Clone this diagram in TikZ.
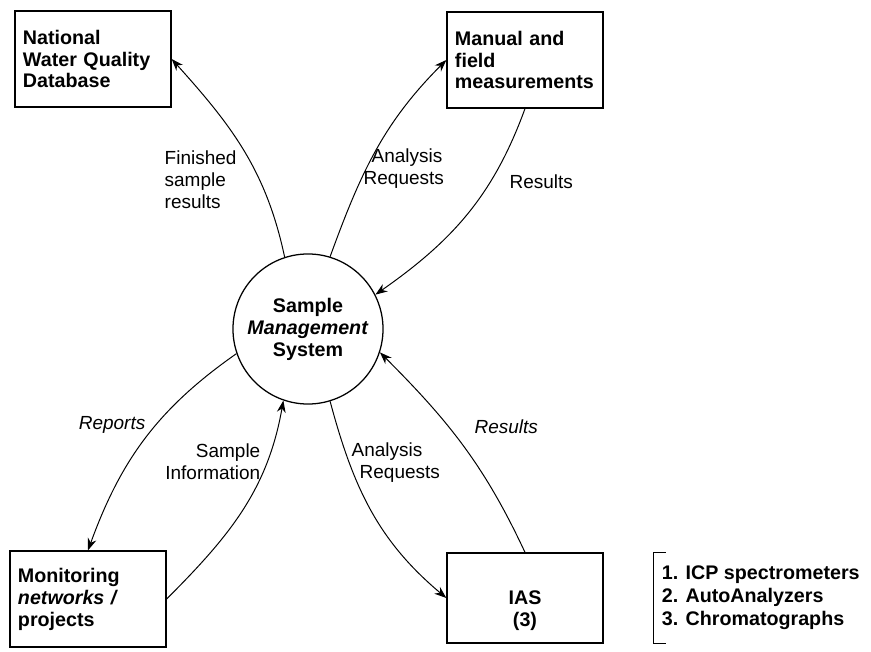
\documentclass[tikz,border=0pt]{standalone}
\usepackage{fontspec}
\setmainfont{Liberation Sans}
\usetikzlibrary{arrows.meta, positioning}

\begin{document}
\begin{tikzpicture}[
    x=0.025cm, y=0.025cm,
    every node/.style={font=\fontsize{13.5}{15.6}\selectfont},
    box/.style={draw, line width=0.9pt, text width=3.5cm, minimum height=2.4cm, inner sep=0.2cm, align=left, font=\fontsize{14}{15.6}\selectfont\bfseries},
    proc/.style={draw, circle, line width=0.9pt, minimum size=3.75cm, inner sep=0pt, align=center, font=\fontsize{14}{15.6}\selectfont\bfseries},
    flow/.style={-{Stealth[length=3mm, width=2.2mm]}, line width=0.7pt},
    lbl/.style={inner sep=1pt}
  ]
    \useasboundingbox (0,0) rectangle (871,652);

    \node[proc] (sms) at (308,323) {Sample\\\textit{Management}\\System};
    \node[box] (ndb) at (93,593) {National\\Water Quality\\Database};
    \node[box] (mfm) at (525,592) {Manual and\\field\\measurements};
    \node[box] (mon) at (88,53) {Monitoring\\\textit{networks /}\\projects};
    \node[box, align=center, minimum height=2.25cm, text height=1cm] (ias) at (525,54) {IAS\\(3)};
    \node[right=1.25cm of ias, minimum height=2.25cm, inner sep=0.2cm, align=left,
          font=\fontsize{14}{16.3}\selectfont\bfseries] (inst)
      {1. ICP spectrometers\\2. AutoAnalyzers\\3. Chromatographs};
    \draw[line width=0.7pt] ([xshift=0.3cm]inst.north west) -- (inst.north west)
      -- (inst.south west) -- ([xshift=0.3cm]inst.south west);

    % flows
    \draw[flow] (sms.108) to[out=102, in=-48] (ndb.east);
    \draw[flow] (sms.73) to[out=70, in=-135] (mfm.west);
    \draw[flow] (mfm.south) to[out=-110, in=35] (sms.27);
    \draw[flow] (sms.199) to[out=215, in=70] (mon.north);
    \draw[flow] (mon.east) to[out=45, in=-100] (sms.251);
    \draw[flow] (sms.287) to[out=-75, in=140] (ias.west);
    \draw[flow] (ias.north) to[out=115, in=-45] (sms.342);

    % labels
    \node[lbl, anchor=west, align=left] (l1) at (163,472) {Finished\\sample\\results};
    \node[lbl, anchor=west, align=left] (l2) at (362,483) {\hspace{0.2cm}Analysis\\Requests};
    \node[lbl, anchor=west] (l3) at (508,470) {Results};
    \node[lbl, anchor=east] (l4) at (147,227) {\itshape Reports};
    \node[lbl, anchor=east, align=right] (l5) at (262,190) {Sample\\Information};
    \node[lbl, anchor=west, align=left] (l6) at (350,189) {Analysis\\\hspace{0.2cm}Requests};
    \node[lbl, anchor=west] (l7) at (473,225) {\itshape Results};
\end{tikzpicture}
\end{document}
